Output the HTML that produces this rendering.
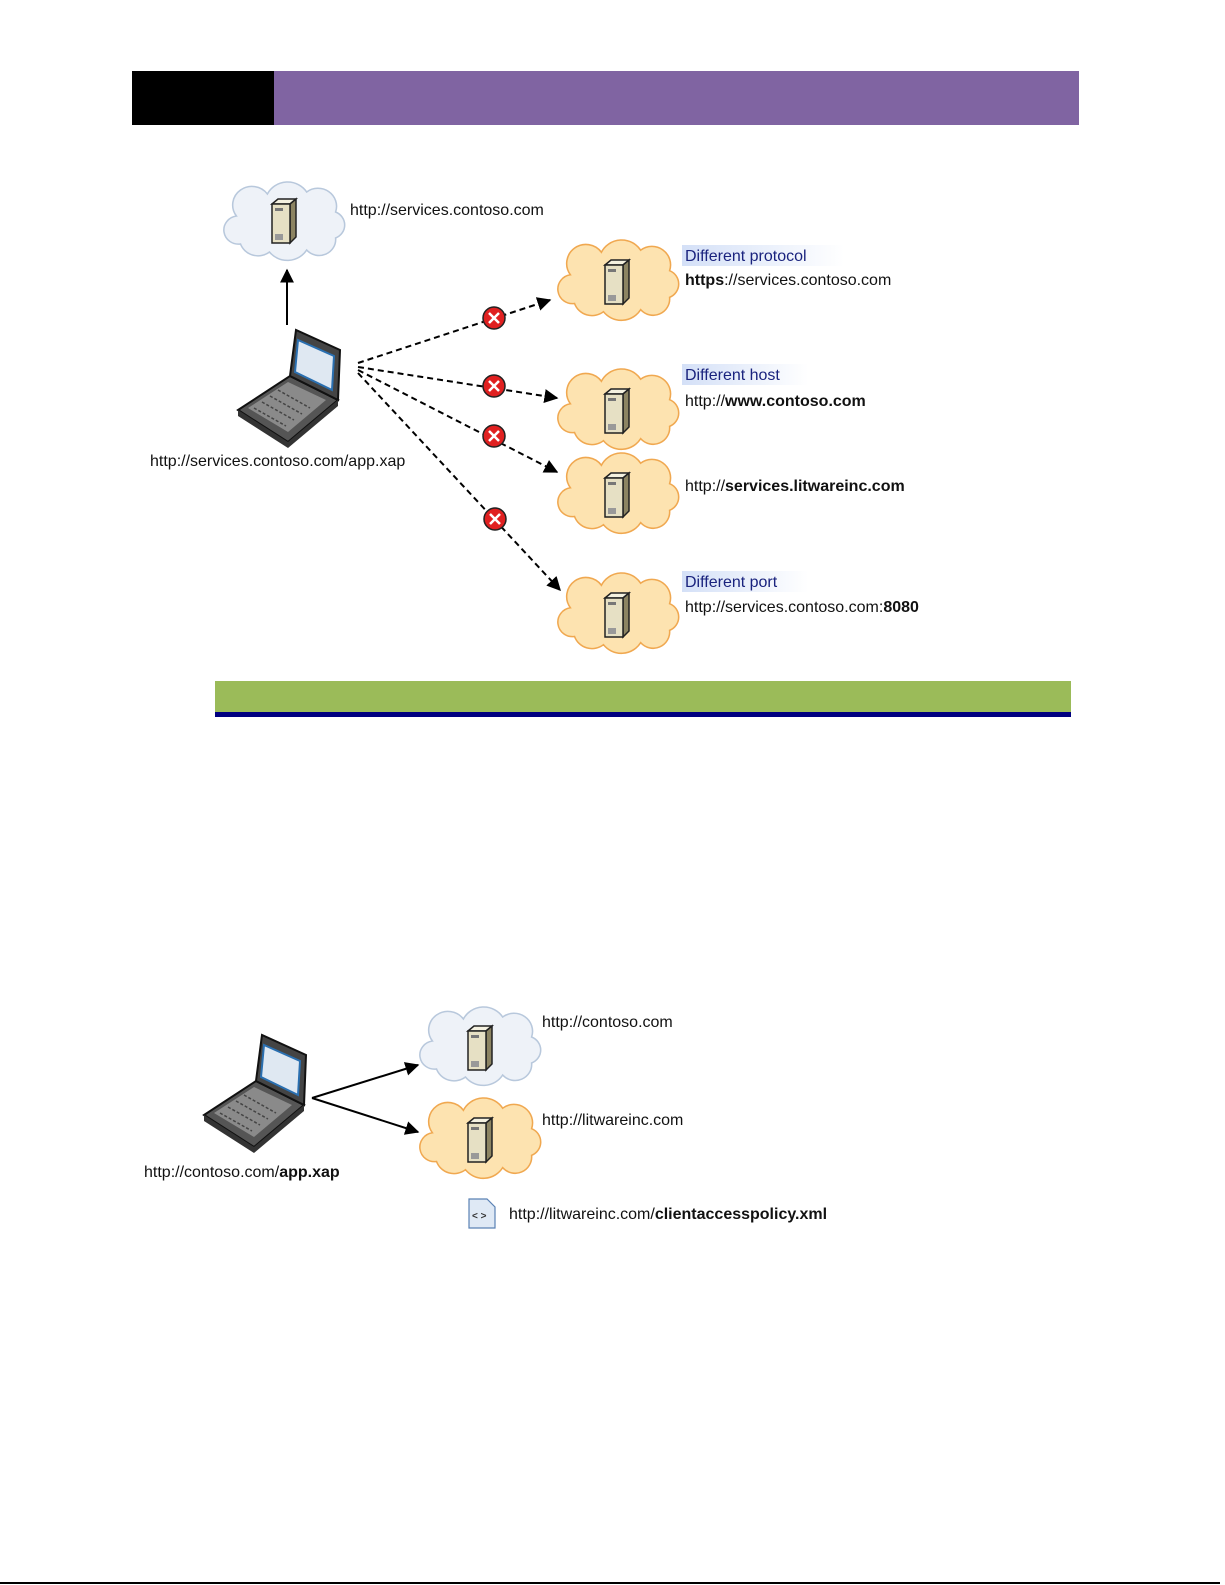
<!DOCTYPE html>
<html><head><meta charset="utf-8"><style>
html,body{margin:0;padding:0;background:#fff;overflow:hidden}
svg{display:block}
text{font-family:"Liberation Sans",sans-serif;font-size:16px;fill:#111}
.b{font-weight:bold}
.lab{fill:#1a237e}
</style></head><body>
<svg width="1225" height="1585" viewBox="0 0 1225 1585" xmlns="http://www.w3.org/2000/svg">
<defs>
<symbol id="cl" viewBox="0 0 120 80" overflow="visible" preserveAspectRatio="none">
<path d="M16,60 a14,14 0 0 1 -4,-28 a18,18 0 0 1 30,-22 a22,22 0 0 1 38,-2 a18,18 0 0 1 28,20 a14,14 0 0 1 0,26 a16,16 0 0 1 -28,12 a22,22 0 0 1 -36,2 a18,18 0 0 1 -28,-8 z"/>
</symbol>
<g id="srv">
<path d="M-12,-20 l6,-5 h18 l-6,5 z" fill="#f4f1e0" stroke="#222" stroke-width="1.5"/>
<path d="M6,-20 l6,-5 v38 l-6,6 z" fill="#8c8462" stroke="#222" stroke-width="1.5"/>
<rect x="-12" y="-20" width="18" height="39" fill="#e6e0c4" stroke="#222" stroke-width="1.5"/>
<rect x="-9" y="-16" width="8" height="3" fill="#777"/>
<rect x="-9" y="10" width="8" height="6" fill="#999"/>
</g>
<g id="xc"><circle r="11" fill="#e02020" stroke="#222" stroke-width="1.5"/><path d="M-5,-5 L5,5 M5,-5 L-5,5" stroke="#fff" stroke-width="2.5"/></g>
<g id="lap">
<path d="M-40,20 L10,52 L60,10 L12,-14 z" fill="#555" stroke="#111" stroke-width="2"/>
<path d="M-30,18 L10,42 L48,10 L10,-8 z" fill="#8a8a8a"/>
<path d="M-24,18 L8,36 M-16,12 L16,30 M-8,6 L24,24 M0,0 L32,18" stroke="#444" stroke-width="1.5" stroke-dasharray="3,2"/>
<path d="M12,-14 L18,-60 L62,-40 L60,10 z" fill="#444" stroke="#111" stroke-width="2"/>
<path d="M20,-50 L56,-34 L54,0 L17,-18 z" fill="#dfe8f2" stroke="#2a6fb0" stroke-width="2"/>
<path d="M-40,20 L10,52 L60,10 L60,16 L10,58 L-40,26 z" fill="#333"/>
</g>
<marker id="ah" viewBox="0 0 10 10" refX="9" refY="5" markerWidth="7" markerHeight="7" orient="auto"><path d="M0,0 L10,5 L0,10 z" fill="#000"/></marker>
<linearGradient id="hl" x1="0" x2="1"><stop offset="0" stop-color="#d4e0f7"/><stop offset="1" stop-color="#fff"/></linearGradient>
</defs>

<rect x="132" y="71" width="142" height="54" fill="#000"/>
<rect x="274" y="71" width="805" height="54" fill="#8064a2"/>

<use href="#cl" x="224" y="184" width="124" height="80" fill="#eef2f8" stroke="#b8c8dc" stroke-width="1.5"/>
<use href="#srv" x="284" y="224"/>
<text x="350" y="215">http://services.contoso.com</text>
<line x1="287" y1="325" x2="287" y2="270" stroke="#000" stroke-width="2" marker-end="url(#ah)"/>

<use href="#lap" x="278" y="390"/>
<text x="150" y="466">http://services.contoso.com/app.xap</text>

<g stroke="#000" stroke-width="2" stroke-dasharray="6,4" fill="none" marker-end="url(#ah)">
<line x1="358" y1="363" x2="550" y2="300"/>
<line x1="358" y1="367" x2="557" y2="398"/>
<line x1="358" y1="370" x2="557" y2="472"/>
<line x1="358" y1="373" x2="560" y2="590"/>
</g>
<use href="#xc" x="494" y="318"/>
<use href="#xc" x="494" y="386"/>
<use href="#xc" x="494" y="436"/>
<use href="#xc" x="495" y="519"/>

<g fill="#fde3b0" stroke="#f0a850" stroke-width="1.5">
<use href="#cl" x="558" y="242" width="124" height="82"/>
<use href="#cl" x="558" y="371" width="124" height="82"/>
<use href="#cl" x="558" y="455" width="124" height="82"/>
<use href="#cl" x="558" y="575" width="124" height="82"/>
</g>
<use href="#srv" x="617" y="285"/>
<use href="#srv" x="617" y="414"/>
<use href="#srv" x="617" y="498"/>
<use href="#srv" x="617" y="618"/>

<rect x="682" y="245" width="162" height="21" fill="url(#hl)"/>
<text x="685" y="261" class="lab">Different protocol</text>
<text x="685" y="285"><tspan class="b">https</tspan>://services.contoso.com</text>
<rect x="682" y="364" width="126" height="21" fill="url(#hl)"/>
<text x="685" y="380" class="lab">Different host</text>
<text x="685" y="406">http://<tspan class="b">www.contoso.com</tspan></text>
<text x="685" y="491">http://<tspan class="b">services.litwareinc.com</tspan></text>
<rect x="682" y="571" width="126" height="21" fill="url(#hl)"/>
<text x="685" y="587" class="lab">Different port</text>
<text x="685" y="612">http://services.contoso.com:<tspan class="b">8080</tspan></text>

<rect x="215" y="681" width="856" height="31" fill="#9bbb59"/>
<rect x="215" y="712" width="856" height="5" fill="#000080"/>

<use href="#lap" x="244" y="1095"/>
<text x="144" y="1177">http://contoso.com/<tspan class="b">app.xap</tspan></text>
<g stroke="#000" stroke-width="2" marker-end="url(#ah)">
<line x1="312" y1="1098" x2="418" y2="1065"/>
<line x1="312" y1="1098" x2="418" y2="1132"/>
</g>
<use href="#cl" x="420" y="1009" width="124" height="80" fill="#eef2f8" stroke="#b8c8dc" stroke-width="1.5"/>
<use href="#srv" x="480" y="1051"/>
<use href="#cl" x="420" y="1100" width="124" height="82" fill="#fde3b0" stroke="#f0a850" stroke-width="1.5"/>
<use href="#srv" x="480" y="1143"/>
<text x="542" y="1027">http://contoso.com</text>
<text x="542" y="1125">http://litwareinc.com</text>
<path d="M469,1199 h18 l8,8 v21 h-26 z" fill="#dfe9f5" stroke="#5b82b5" stroke-width="1.2"/>
<text x="472" y="1219" style="font-size:10px;font-weight:bold;fill:#333">&lt; &gt;</text>
<text x="509" y="1219">http://litwareinc.com/<tspan class="b">clientaccesspolicy.xml</tspan></text>

<rect x="0" y="1582" width="1220" height="2" fill="#000"/>
</svg>
</body></html>
